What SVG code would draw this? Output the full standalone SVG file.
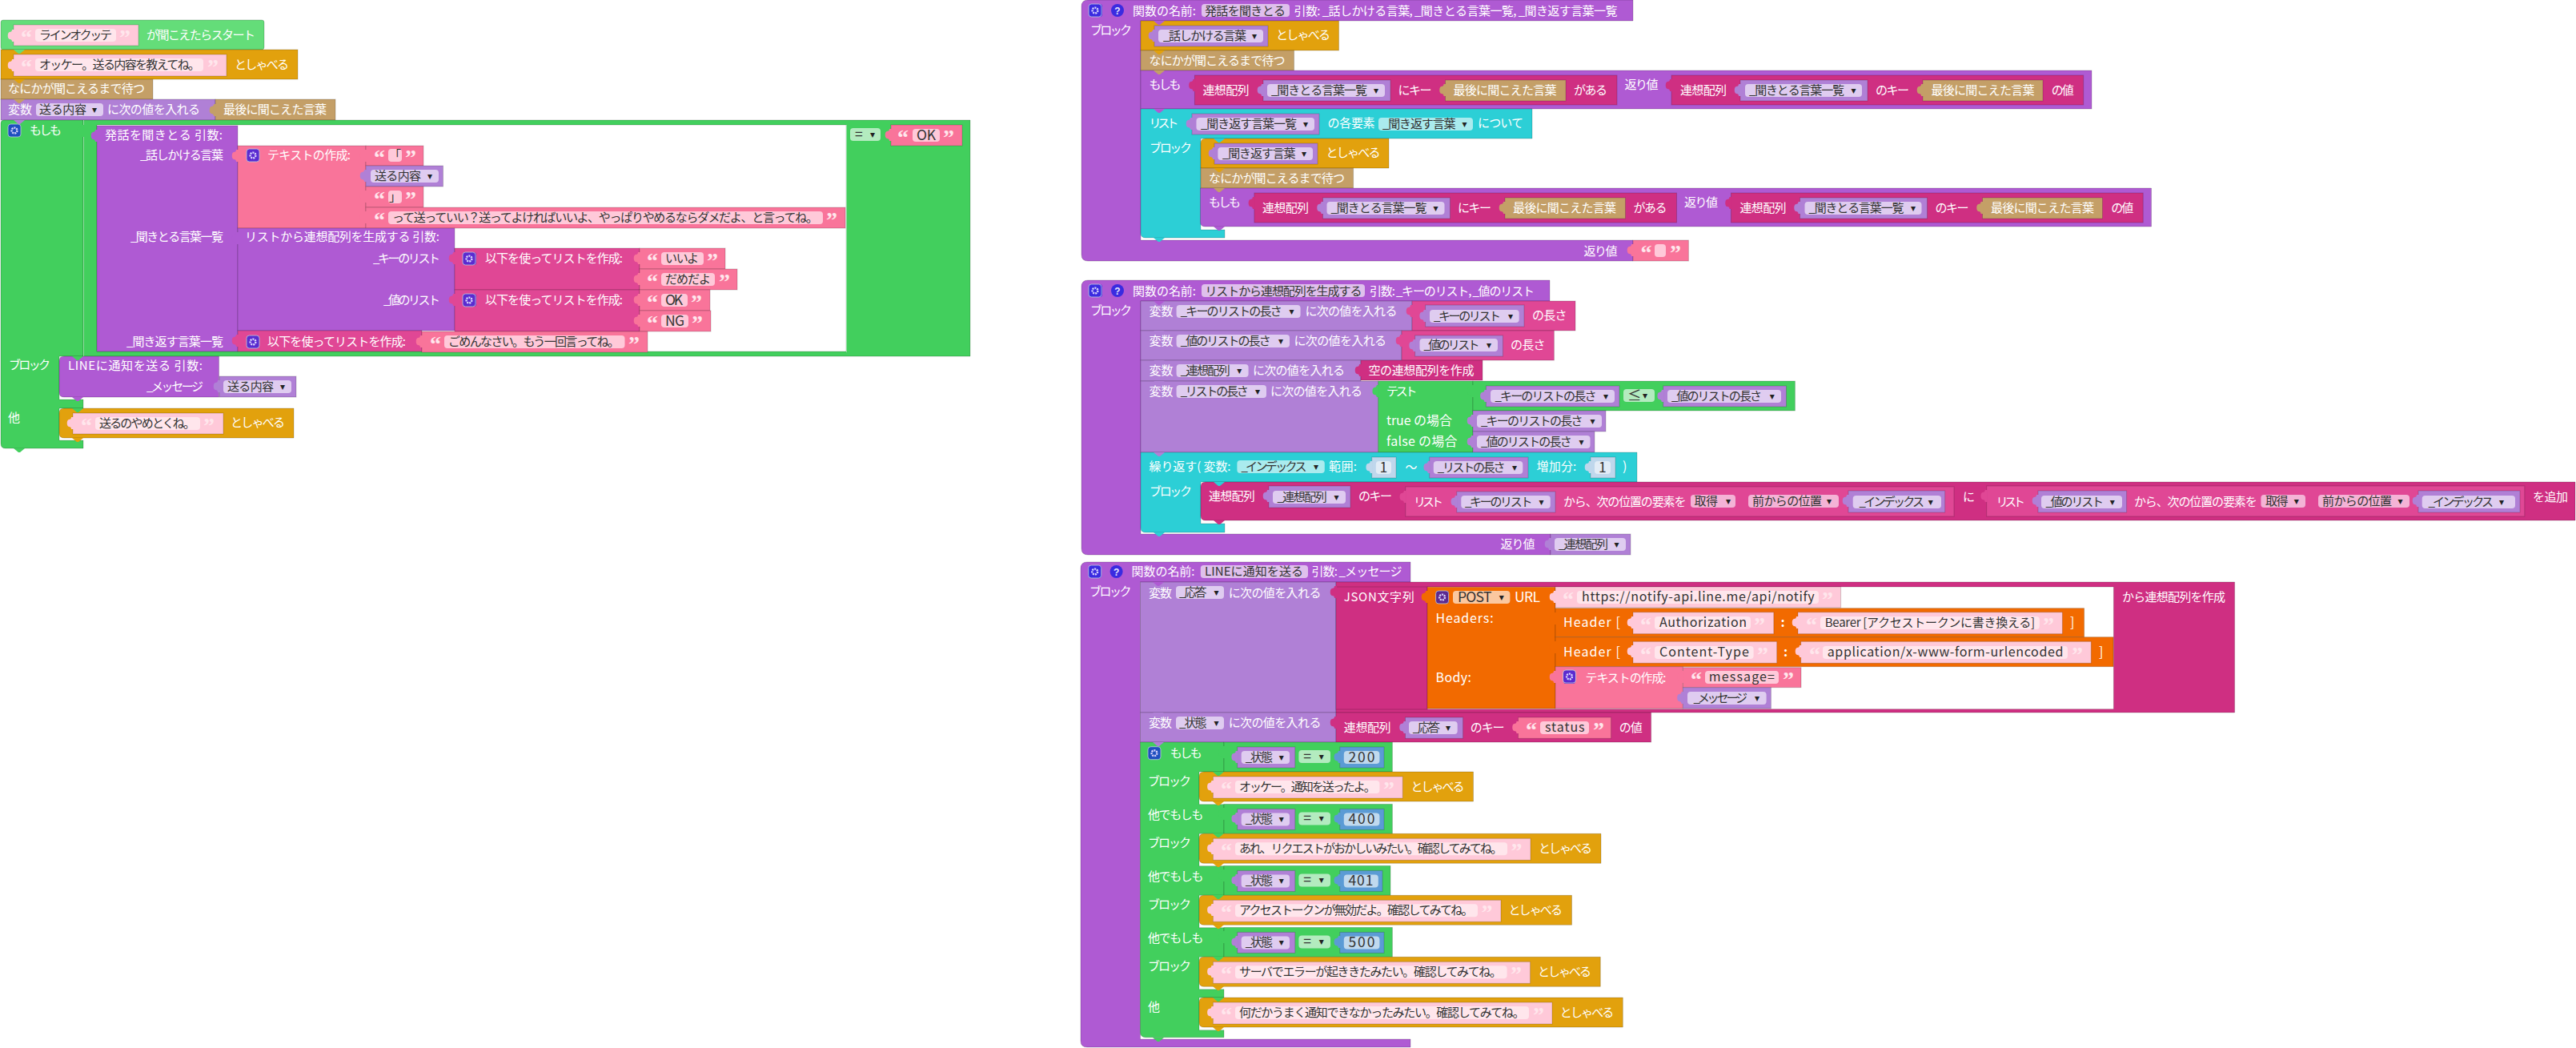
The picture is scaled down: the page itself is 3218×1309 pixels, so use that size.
<svg xmlns="http://www.w3.org/2000/svg" xmlns:xlink="http://www.w3.org/1999/xlink" width="3218" height="1309" viewBox="0 0 3218 1309">
<style>
text{font-family:"Noto Sans CJK JP","Noto Sans",sans-serif;font-size:15px}
.w{fill:#fff}.d{fill:#333}
.l{font-size:17.500px}.m{font-size:16px}
.q{font-family:"Liberation Serif",serif;font-weight:bold;font-size:28px;fill:#ffe6ec}
.a{font-family:"DejaVu Sans",sans-serif;font-size:12px;fill:#222;text-anchor:middle}
rect:not(.f),path.k{stroke:rgba(0,0,0,.18)}
.st{fill:#64dd79}.ge{fill:#42cf5d}.or{fill:#e2a10d}.tn{fill:#c49f67}.pv{fill:#b080d6}.pu{fill:#af5ad3}.dr{fill:#cf2f82}.dp{fill:#e04795}.pk{fill:#f9749a}.lp{fill:#ffc9d9}.cy{fill:#2ccfd6}.og{fill:#f26a00}.nb{fill:#5b9bd5}.n1{fill:#bfd7ec}
.fv{fill:#dfccf0}.fl{fill:#ffe6ec}.fp{fill:#ffc9d9}.fg{fill:#b3ebbf}.fc{fill:#aaebee}.fn{fill:#c0d9ee}.fm{fill:#dfc0ec}.fo{fill:#fbc8a0}.fd{fill:#f4b3d6}.fw{fill:#e2ecf6}
.ib{fill:#1f4fbf}.ip{fill:#5a2bd0}.iq{fill:#3a2be0}.io{fill:#5c2a90}
.sep{fill:#8fe09f}
.gear{fill:none;stroke:#dcd6ff;stroke-width:2.4;stroke-dasharray:2 1}
.help{font-family:"Liberation Sans",sans-serif;font-weight:bold;font-size:12px;fill:#e6e2ff;text-anchor:middle}
</style>
<defs>
<path id="t" d="M0 0H14L8 5H6Z"/>
<path id="p" d="M1 0H-2C-2 2 -3 3 -5 3C-8 3 -8 12 -5 12C-3 12 -2 13 -2 15H1Z"/>
<g id="ic"><rect class="f" x="0" y="0" width="16" height="16" rx="3.5" fill="none" stroke="#bcd" stroke-width="0.8"/><circle class="gear" cx="8" cy="8" r="3.4"/></g>
</defs>

<g id="start-stack">
<g id="start-hat"><rect class="st" x="1" y="25" width="329" height="37" rx="3"/>
<rect class="lp" x="17" y="31" width="156" height="26"/><text class="q" x="26" y="56">“</text><rect class="f fl" x="44" y="36" width="101" height="16" rx="4"/><text class="d" x="49" y="49" textLength="91">ラインオクッテ</text><text class="q" x="149" y="56">”</text>
<text class="w" x="183" y="49" textLength="136">が聞こえたらスタート</text></g>
<g id="start-say"><rect class="or" x="1" y="62" width="371" height="37"/>
<rect class="lp" x="17" y="68" width="266" height="27"/><text class="q" x="26" y="93">“</text><rect class="f fl" x="44" y="73" width="210" height="16" rx="4"/><text class="d" x="49" y="86" textLength="201">オッケー。送る内容を教えてね。</text><text class="q" x="259" y="93">”</text>
<text class="w" x="293" y="86" textLength="68">としゃべる</text></g>
<g id="start-wait"><rect class="tn" x="1" y="99" width="190" height="25"/><text class="w" x="10" y="116" textLength="171">なにかが聞こえるまで待つ</text></g>
<g id="start-set"><rect class="pv" x="1" y="124" width="268" height="26"/><text class="w" x="10" y="142" textLength="30">変数</text><rect class="f fv" x="45" y="129" width="84" height="16" rx="4"/><text class="d" x="49" y="142" textLength="59">送る内容</text><text class="a" x="118" y="141">▾</text><text class="w" x="134" y="142" textLength="116">に次の値を入れる</text>
<rect class="tn" x="269" y="124" width="150" height="26"/><text class="w" x="279" y="142" textLength="129">最後に聞こえた言葉</text></g>
<g id="start-if">
<path class="ge k" d="M5 150H104V445H74V499H104V510H74V550H104V560H7Q1 560 1 554V154Q1 150 5 150Z"/>
<rect class="f ib" x="10" y="155" width="16" height="16" rx="3.5"/><use href="#ic" x="10" y="155"/>
<text class="w" x="37" y="168" textLength="40">もしも</text>
<text class="w" x="11" y="461" textLength="52">ブロック</text>
<text class="w" x="10" y="527" textLength="15">他</text>
</g>
<g id="start-compare">
<path class="ge k" d="M104 150H1212V445H104ZM121 156V439H1057V156Z" fill-rule="evenodd"/>
<rect class="f sep" x="104" y="150" width="1" height="295"/><rect class="f sep" x="1057" y="156" width="1" height="284"/>
<rect class="f fg" x="1062" y="160" width="38" height="16" rx="4"/><text class="d l" x="1068" y="174">=</text><text class="a" x="1090" y="172">▾</text>
<rect class="pk" x="1113" y="156" width="89" height="26"/><text class="q" x="1121" y="181">“</text><rect class="f fp" x="1140" y="161" width="34" height="16" rx="4"/><text class="d l" x="1145" y="175" textLength="24">OK</text><text class="q" x="1178" y="181">”</text>
</g>
<g id="call-hatsuwa"><rect class="pu" x="121" y="157" width="176" height="282"/>
<text class="w" x="131" y="174" textLength="147">発話を聞きとる  引数:</text>
<text class="w" x="175" y="199" textLength="104">_話しかける言葉</text>
<text class="w" x="163" y="301" textLength="116">_聞きとる言葉一覧</text>
<text class="w" x="158" y="432" textLength="121">_聞き返す言葉一覧</text></g>
<g id="join-prompt"><rect class="pk" x="297" y="182" width="160" height="103"/><rect class="f ip" x="308" y="186" width="16" height="16" rx="3.5"/><use href="#ic" x="308" y="186"/>
<text class="w" x="334" y="199" textLength="104">テキストの作成:</text>
<rect class="pk" x="457" y="182" width="72" height="25"/><text class="q" x="467" y="206">“</text><rect class="f fp" x="485" y="186" width="17" height="16" rx="4"/><text class="d" x="486" y="199">「</text><text class="q" x="506" y="206">”</text>
<rect class="pv" x="457" y="207" width="96.500" height="26"/><rect class="f fv" x="463" y="212" width="85" height="16" rx="4"/><text class="d" x="468" y="225" textLength="58">送る内容</text><text class="a" x="537" y="224">▾</text>
<rect class="pk" x="457" y="233" width="72" height="26"/><text class="q" x="467" y="258">“</text><rect class="f fp" x="485" y="238" width="17" height="16" rx="4"/><text class="d" x="486" y="251">」</text><text class="q" x="506" y="258">”</text>
<rect class="pk" x="457" y="259" width="599" height="26"/><text class="q" x="467" y="284">“</text><rect class="f fp" x="485" y="264" width="543" height="16" rx="4"/><text class="d" x="490" y="277" textLength="532">って送っていい？送ってよければいいよ、やっぱりやめるならダメだよ、と言ってね。</text><text class="q" x="1032" y="284">”</text></g>
<g id="call-dict"><rect class="pu" x="297" y="285" width="271" height="128"/>
<text class="w" x="306" y="301" textLength="243">リストから連想配列を生成する  引数:</text>
<text class="w" x="466" y="328" textLength="84">_キーのリスト</text>
<text class="w" x="479" y="380" textLength="71">_値のリスト</text></g>
<g id="list-keys"><rect class="dp" x="568" y="310" width="231" height="52"/><rect class="f ip" x="578" y="315" width="17" height="16" rx="3.5"/><use href="#ic" x="578" y="315"/><text class="w" x="606" y="328" textLength="172">以下を使ってリストを作成:</text>
<rect class="pk" x="799" y="310" width="107" height="26"/><text class="q" x="808" y="335">“</text><rect class="f fp" x="826" y="315" width="53" height="16" rx="4"/><text class="d" x="831" y="328" textLength="42">いいよ</text><text class="q" x="883" y="335">”</text>
<rect class="pk" x="799" y="336" width="122" height="26"/><text class="q" x="808" y="361">“</text><rect class="f fp" x="826" y="341" width="67" height="16" rx="4"/><text class="d" x="831" y="354" textLength="57">だめだよ</text><text class="q" x="898" y="361">”</text></g>
<g id="list-values"><rect class="dp" x="568" y="362" width="231" height="52"/><rect class="f ip" x="578" y="367" width="17" height="16" rx="3.5"/><use href="#ic" x="578" y="367"/><text class="w" x="606" y="380" textLength="172">以下を使ってリストを作成:</text>
<rect class="pk" x="799" y="362" width="88" height="26"/><text class="q" x="808" y="387">“</text><rect class="f fp" x="826" y="367" width="33" height="16" rx="4"/><text class="d l" x="831" y="381" textLength="22">OK</text><text class="q" x="863" y="387">”</text>
<rect class="pk" x="799" y="388" width="89" height="26"/><text class="q" x="808" y="413">“</text><rect class="f fp" x="826" y="393" width="34" height="16" rx="4"/><text class="d l" x="831" y="407" textLength="24">NG</text><text class="q" x="864" y="413">”</text></g>
<g id="list-again"><rect class="dp" x="297" y="413" width="230" height="26"/><rect class="f ip" x="308" y="419" width="16" height="16" rx="3.5"/><use href="#ic" x="308" y="419"/><text class="w" x="334" y="432" textLength="173">以下を使ってリストを作成:</text>
<rect class="pk" x="527" y="414" width="282" height="26"/><text class="q" x="537" y="439">“</text><rect class="f fp" x="555" y="419" width="225.500" height="16" rx="4"/><text class="d" x="560" y="432" textLength="214">ごめんなさい。もう一回言ってね。</text><text class="q" x="785" y="439">”</text></g>
<g id="call-line"><path class="pu k" d="M80 445H273.500V496H80Q74 496 74 490V451Q74 445 80 445Z"/>
<text class="w" x="85" y="462" textLength="168">LINEに通知を送る  引数:</text><text class="w" x="183" y="488" textLength="71">_メッセージ</text>
<rect class="pv" x="274" y="470" width="96" height="26"/><rect class="f fv" x="279" y="475" width="85" height="16" rx="4"/><text class="d" x="284" y="488" textLength="58">送る内容</text><text class="a" x="353" y="487">▾</text></g>
<g id="say-cancel"><path class="or k" d="M80 510H367V547H80Q74 547 74 541V516Q74 510 80 510Z"/>
<rect class="lp" x="91" y="516" width="188" height="26"/><text class="q" x="101" y="541">“</text><rect class="f fl" x="119" y="521" width="131" height="16" rx="4"/><text class="d" x="124" y="534" textLength="120">送るのやめとくね。</text><text class="q" x="254" y="541">”</text><text class="w" x="288" y="533" textLength="68">としゃべる</text></g>
</g>

<g id="func-hatsuwa">
<path class="pu k" d="M1359 0H2040V26H1425V300H2040V326H1359Q1351 326 1351 318V8Q1351 0 1359 0Z"/>
<rect class="f iq" x="1360" y="5" width="17" height="16" rx="3.5"/><use href="#ic" x="1360" y="5"/>
<circle class="iq" cx="1396" cy="13" r="8"/><text class="help" x="1396" y="17.500">?</text>
<text class="w" x="1415" y="18.500" textLength="79">関数の名前:</text>
<rect class="f fm" x="1501" y="5" width="110" height="16" rx="4"/><text class="d" x="1505" y="18.500" textLength="101">発話を聞きとる</text>
<text class="w" x="1616.500" y="18.500" textLength="404">引数: _話しかける言葉, _聞きとる言葉一覧, _聞き返す言葉一覧</text>
<text class="w" x="1362" y="42.500" textLength="52">ブロック</text>
<text class="w" x="1978.500" y="318.500" textLength="42">返り値</text>
<rect class="pk" x="2040" y="300" width="69.400" height="26"/><text class="q" x="2049.500" y="325">“</text><rect class="f fp" x="2067" y="305" width="14" height="16" rx="4"/><text class="q" x="2086" y="325">”</text>
<g id="f1-say"><rect class="or" x="1425" y="26" width="247.500" height="37"/><rect class="pv" x="1442" y="32" width="142" height="26"/><rect class="f fv" x="1447" y="37" width="131" height="16" rx="4"/><text class="d" x="1453" y="50" textLength="104">_話しかける言葉</text><text class="a" x="1567" y="49">▾</text><text class="w" x="1594" y="49" textLength="68">としゃべる</text></g>
<g id="f1-wait"><rect class="tn" x="1425" y="63" width="191.500" height="25"/><text class="w" x="1435.500" y="81" textLength="170">なにかが聞こえるまで待つ</text></g>
<g id="f1-if"><rect class="pu" x="1425" y="88" width="1188" height="48"/><text class="w" x="1435.500" y="111" textLength="40">もしも</text>
<rect class="dr" x="1492.400" y="94" width="527.600" height="37"/><text class="w" x="1502.500" y="118" textLength="58">連想配列</text>
<rect class="pv" x="1578" y="100" width="159" height="26"/><rect class="f fv" x="1583" y="105" width="147" height="16" rx="4"/><text class="d" x="1588" y="118" textLength="120">_聞きとる言葉一覧</text><text class="a" x="1719" y="117">▾</text>
<text class="w" x="1746.500" y="118" textLength="42">にキー</text>
<rect class="tn" x="1805.500" y="100" width="150.500" height="26"/><text class="w" x="1815.600" y="118" textLength="129">最後に聞こえた言葉</text>
<text class="w" x="1966" y="118" textLength="42">がある</text>
<text class="w" x="2029.500" y="111" textLength="42">返り値</text>
<rect class="dr" x="2088" y="94" width="514.700" height="37"/><text class="w" x="2099" y="118" textLength="58">連想配列</text>
<rect class="pv" x="2174" y="100" width="159" height="26"/><rect class="f fv" x="2180" y="105" width="146" height="16" rx="4"/><text class="d" x="2185" y="118" textLength="119">_聞きとる言葉一覧</text><text class="a" x="2315.600" y="117">▾</text>
<text class="w" x="2343" y="118" textLength="42">のキー</text>
<rect class="tn" x="2402" y="100" width="150" height="26"/><text class="w" x="2412.500" y="118" textLength="129">最後に聞こえた言葉</text>
<text class="w" x="2562.700" y="118" textLength="28">の値</text></g>
<g id="f1-for"><path class="cy k" d="M1425 136H1914V173H1500V287H1530V297H1431Q1425 297 1425 291Z"/>
<text class="w" x="1435.500" y="159" textLength="37">リスト</text>
<rect class="pv" x="1489" y="142" width="159" height="26"/><rect class="f fv" x="1494.500" y="147" width="147.500" height="16" rx="4"/><text class="d" x="1500" y="160" textLength="120">_聞き返す言葉一覧</text><text class="a" x="1631" y="159">▾</text>
<text class="w" x="1658.600" y="159" textLength="59">の各要素</text>
<rect class="f fc" x="1722" y="147" width="118" height="16" rx="4"/><text class="d" x="1727" y="160" textLength="91.500">_聞き返す言葉</text><text class="a" x="1829.500" y="159">▾</text>
<text class="w" x="1846" y="159" textLength="57">について</text>
<text class="w" x="1436" y="190" textLength="53">ブロック</text></g>
<g id="f1-for-say"><path class="or k" d="M1506 173H1735V210H1500V179Q1500 173 1506 173Z"/><rect class="pv" x="1517" y="179" width="129" height="26"/><rect class="f fv" x="1521.400" y="184" width="118.600" height="16" rx="4"/><text class="d" x="1527" y="197" textLength="91.600">_聞き返す言葉</text><text class="a" x="1629" y="196">▾</text><text class="w" x="1656.500" y="196" textLength="68">としゃべる</text></g>
<g id="f1-for-wait"><rect class="tn" x="1500" y="210" width="190.600" height="25"/><text class="w" x="1510" y="228" textLength="170">なにかが聞こえるまで待つ</text></g>
<g id="f1-for-if" transform="translate(74.500,147)"><path class="pu k" d="M1425 88H2613V136H1431Q1425 136 1425 130Z"/><text class="w" x="1435.500" y="111" textLength="40">もしも</text>
<rect class="dr" x="1492.400" y="94" width="527.600" height="37"/><text class="w" x="1502.500" y="118" textLength="58">連想配列</text>
<rect class="pv" x="1578" y="100" width="159" height="26"/><rect class="f fv" x="1583" y="105" width="147" height="16" rx="4"/><text class="d" x="1588" y="118" textLength="120">_聞きとる言葉一覧</text><text class="a" x="1719" y="117">▾</text>
<text class="w" x="1746.500" y="118" textLength="42">にキー</text>
<rect class="tn" x="1805.500" y="100" width="150.500" height="26"/><text class="w" x="1815.600" y="118" textLength="129">最後に聞こえた言葉</text>
<text class="w" x="1966" y="118" textLength="42">がある</text>
<text class="w" x="2029.500" y="111" textLength="42">返り値</text>
<rect class="dr" x="2088" y="94" width="514.700" height="37"/><text class="w" x="2099" y="118" textLength="58">連想配列</text>
<rect class="pv" x="2174" y="100" width="159" height="26"/><rect class="f fv" x="2180" y="105" width="146" height="16" rx="4"/><text class="d" x="2185" y="118" textLength="119">_聞きとる言葉一覧</text><text class="a" x="2315.600" y="117">▾</text>
<text class="w" x="2343" y="118" textLength="42">のキー</text>
<rect class="tn" x="2402" y="100" width="150" height="26"/><text class="w" x="2412.500" y="118" textLength="129">最後に聞こえた言葉</text>
<text class="w" x="2562.700" y="118" textLength="28">の値</text></g>
</g>

<g id="func-dict">
<path class="pu k" d="M1359 350H1936V376H1425V667H1937V693H1359Q1351 693 1351 685V358Q1351 350 1359 350Z"/>
<rect class="f iq" x="1360" y="355" width="17" height="16" rx="3.5"/><use href="#ic" x="1360" y="355"/>
<circle class="iq" cx="1396" cy="363" r="8"/><text class="help" x="1396" y="367.500">?</text>
<text class="w" x="1415" y="368.500" textLength="79">関数の名前:</text>
<rect class="f fm" x="1501" y="355" width="204" height="16" rx="4"/><text class="d" x="1505.400" y="368.500" textLength="196">リストから連想配列を生成する</text>
<text class="w" x="1711" y="368.500" textLength="206">引数: _キーのリスト, _値のリスト</text>
<text class="w" x="1362" y="393" textLength="52">ブロック</text>
<text class="w" x="1874.500" y="685" textLength="43">返り値</text>
<rect class="pv" x="1937" y="667" width="100" height="26"/><rect class="f fv" x="1942" y="672" width="89" height="16" rx="4"/><text class="d" x="1947" y="685" textLength="62">_連想配列</text><text class="a" x="2019.400" y="684">▾</text>
<g id="f2-set1"><rect class="pv" x="1425" y="376" width="339" height="37"/><text class="w" x="1435.500" y="394" textLength="30">変数</text><rect class="f fv" x="1469.600" y="381" width="155" height="16" rx="4"/><text class="d" x="1474.700" y="394" textLength="127">_キーのリストの長さ</text><text class="a" x="1613.600" y="393">▾</text><text class="w" x="1630.400" y="394" textLength="115">に次の値を入れる</text>
<rect class="dp" x="1764" y="376" width="204" height="37"/><rect class="pv" x="1780.600" y="381" width="123.400" height="27"/><rect class="f fv" x="1786" y="387" width="111.700" height="16" rx="4"/><text class="d" x="1791" y="400" textLength="84">_キーのリスト</text><text class="a" x="1887" y="399">▾</text><text class="w" x="1914" y="399" textLength="43.400">の長さ</text></g>
<g id="f2-set2"><rect class="pv" x="1425" y="413" width="326" height="37"/><text class="w" x="1435.500" y="431" textLength="30">変数</text><rect class="f fv" x="1469.600" y="418" width="141.400" height="16" rx="4"/><text class="d" x="1474.700" y="431" textLength="113">_値のリストの長さ</text><text class="a" x="1600" y="430">▾</text><text class="w" x="1616.500" y="431" textLength="115.500">に次の値を入れる</text>
<rect class="dp" x="1751" y="413" width="190.400" height="37"/><rect class="pv" x="1767.600" y="419" width="109.900" height="26"/><rect class="f fv" x="1773.500" y="423" width="97.500" height="16" rx="4"/><text class="d" x="1778.500" y="436" textLength="70">_値のリスト</text><text class="a" x="1860" y="435">▾</text><text class="w" x="1887" y="436" textLength="43.500">の長さ</text></g>
<g id="f2-set3"><rect class="pv" x="1425" y="450" width="275" height="26"/><text class="w" x="1435.500" y="468" textLength="30">変数</text><rect class="f fv" x="1469.600" y="455" width="90" height="16" rx="4"/><text class="d" x="1474.700" y="468" textLength="62">_連想配列</text><text class="a" x="1548.300" y="467">▾</text><text class="w" x="1565" y="468" textLength="115">に次の値を入れる</text>
<rect class="dr" x="1700" y="450" width="152" height="25"/><text class="w" x="1709.500" y="468" textLength="132">空の連想配列を作成</text></g>
<g id="f2-set4"><rect class="pv" x="1425" y="476" width="296.700" height="89"/><text class="w" x="1435.500" y="494" textLength="30">変数</text><rect class="f fv" x="1469.600" y="481" width="112.400" height="16" rx="4"/><text class="d" x="1474.700" y="494" textLength="85">_リストの長さ</text><text class="a" x="1571" y="493">▾</text><text class="w" x="1587" y="494" textLength="115">に次の値を入れる</text>
<rect class="ge" x="1721.700" y="476" width="118.300" height="89"/><text class="w" x="1732" y="494" textLength="38.500">テスト</text><text class="w m" x="1732" y="531" textLength="82">true の場合</text><text class="w m" x="1732" y="557" textLength="88.600">false の場合</text>
<rect class="ge" x="1840" y="476" width="402.400" height="37"/>
<rect class="pv" x="1856.400" y="482" width="166.600" height="26"/><rect class="f fv" x="1862" y="487" width="155" height="16" rx="4"/><text class="d" x="1867.400" y="500" textLength="127">_キーのリストの長さ</text><text class="a" x="2006" y="499">▾</text>
<rect class="f fg" x="2028" y="486" width="39" height="16" rx="4"/><text class="d l" x="2033" y="500">≤</text><text class="a" x="2055" y="498">▾</text>
<rect class="pv" x="2077.700" y="482" width="153.800" height="26"/><rect class="f fv" x="2083" y="487" width="142" height="16" rx="4"/><text class="d" x="2088" y="500" textLength="113">_値のリストの長さ</text><text class="a" x="2213.700" y="499">▾</text>
<rect class="pv" x="1840" y="513" width="166" height="26"/><rect class="f fv" x="1845" y="518" width="156" height="16" rx="4"/><text class="d" x="1850" y="531" textLength="127.600">_キーのリストの長さ</text><text class="a" x="1989.400" y="530">▾</text>
<rect class="pv" x="1840" y="539" width="152" height="26"/><rect class="f fv" x="1845" y="544" width="141.500" height="16" rx="4"/><text class="d" x="1850" y="557" textLength="113.700">_値のリストの長さ</text><text class="a" x="1975.500" y="556">▾</text></g>
<g id="f2-for"><path class="cy k" d="M1425 565H2045V602H1500V654H1530V665H1431Q1425 665 1425 659Z"/>
<text class="w" x="1435.500" y="588" textLength="102">繰り返す( 変数:</text>
<rect class="f fc" x="1545.400" y="575" width="109.400" height="16" rx="4"/><text class="d" x="1550.400" y="588" textLength="82">_インデックス</text><text class="a" x="1644" y="587">▾</text>
<text class="w" x="1660" y="588" textLength="35">範囲:</text>
<rect class="n1" x="1713.700" y="571" width="30.300" height="26"/><rect class="f fw" x="1718.800" y="576" width="19.200" height="16" rx="4"/><text class="d l" x="1723.500" y="590">1</text>
<text class="w" x="1755.400" y="589" textLength="13">〜</text>
<rect class="pv" x="1785.700" y="571" width="123.300" height="26"/><rect class="f fv" x="1790.800" y="576" width="111.500" height="16" rx="4"/><text class="d" x="1795.800" y="589" textLength="84.600">_リストの長さ</text><text class="a" x="1892" y="588">▾</text>
<text class="w" x="1919.600" y="588" textLength="49.600">増加分:</text>
<rect class="n1" x="1987" y="571" width="31" height="26"/><rect class="f fw" x="1992" y="576" width="20" height="16" rx="4"/><text class="d l" x="1997" y="590">1</text>
<text class="w m" x="2027" y="588">)</text>
<text class="w" x="1436" y="619" textLength="53">ブロック</text></g>
<g id="f2-add"><path class="dr k" d="M1506 602H3217V650H1506Q1500 650 1500 644V608Q1500 602 1506 602Z"/>
<text class="w" x="1510" y="625" textLength="57.700">連想配列</text>
<rect class="pv" x="1585" y="607" width="102" height="27"/><rect class="f fv" x="1590" y="613" width="91" height="16" rx="4"/><text class="d" x="1595.500" y="626" textLength="62.300">_連想配列</text><text class="a" x="1669.500" y="625">▾</text>
<text class="w" x="1697" y="625" textLength="42">のキー</text>
<rect class="dp" x="1755.800" y="608" width="685.200" height="37"/><text class="w" x="1766" y="632" textLength="37">リスト</text>
<rect class="pv" x="1819.800" y="614" width="123.200" height="26"/><rect class="f fv" x="1825.300" y="619" width="111.500" height="16" rx="4"/><text class="d" x="1830" y="632" textLength="84.500">_キーのリスト</text><text class="a" x="1925.400" y="631">▾</text>
<text class="w" x="1953" y="632" textLength="153.400">から、次の位置の要素を</text>
<rect class="f fd" x="2112" y="618" width="56" height="16" rx="4"/><text class="d" x="2116.500" y="631" textLength="29.500">取得</text><text class="a" x="2159" y="630">▾</text>
<rect class="f fd" x="2184" y="618" width="113" height="16" rx="4"/><text class="d" x="2189" y="631" textLength="87">前からの位置</text><text class="a" x="2285" y="630">▾</text>
<rect class="pv" x="2309" y="613" width="120.700" height="27"/><rect class="f fv" x="2314.700" y="619" width="110.300" height="16" rx="4"/><text class="d" x="2322.500" y="632" textLength="81.500">_インデックス</text><text class="a" x="2411.800" y="631">▾</text>
<text class="w" x="2452" y="626" textLength="14">に</text>
<rect class="dp" x="2481.700" y="607" width="672.100" height="38"/><text class="w" x="2493.400" y="632" textLength="36.600">リスト</text>
<rect class="pv" x="2546" y="613" width="110.600" height="27"/><rect class="f fv" x="2550" y="619" width="101" height="16" rx="4"/><text class="d" x="2555.600" y="632" textLength="72.400">_値のリスト</text><text class="a" x="2638.700" y="631">▾</text>
<text class="w" x="2665.900" y="632" textLength="153.800">から、次の位置の要素を</text>
<rect class="f fd" x="2824.400" y="618" width="55.600" height="16" rx="4"/><text class="d" x="2830" y="631" textLength="28.600">取得</text><text class="a" x="2868.700" y="630">▾</text>
<rect class="f fd" x="2896" y="618" width="114" height="16" rx="4"/><text class="d" x="2901" y="631" textLength="87">前からの位置</text><text class="a" x="2998.500" y="630">▾</text>
<rect class="pv" x="3021" y="613" width="127" height="27"/><rect class="f fv" x="3025.700" y="619" width="116.300" height="16" rx="4"/><text class="d" x="3033.400" y="632" textLength="81.600">_インデックス</text><text class="a" x="3125" y="631">▾</text>
<text class="w" x="3164" y="626" textLength="44">を追加</text></g>
</g>

<g id="func-line">
<path class="pu k" d="M1358 702H1762V727H1424.500V1298H1762V1308H1358Q1350 1308 1350 1300V710Q1350 702 1358 702Z"/>
<rect class="f iq" x="1359.700" y="706" width="16.300" height="16" rx="3.500"/><use href="#ic" x="1359.700" y="706"/>
<circle class="iq" cx="1394.600" cy="714" r="8"/><text class="help" x="1394.600" y="718.500">?</text>
<text class="w" x="1413.500" y="719" textLength="79">関数の名前:</text>
<rect class="f fm" x="1499.800" y="706" width="134.200" height="16" rx="4"/><text class="d" x="1505" y="719" textLength="123">LINEに通知を送る</text>
<text class="w" x="1638.400" y="719" textLength="113">引数: _メッセージ</text>
<text class="w" x="1361" y="744" textLength="52.500">ブロック</text>
<g id="f3-set-res"><rect class="pv" x="1424.500" y="727" width="244.500" height="163"/><text class="w" x="1435" y="746" textLength="29">変数</text><rect class="f fv" x="1469" y="732" width="60" height="16" rx="4"/><text class="d" x="1473" y="745" textLength="34.600">_応答</text><text class="a" x="1519.500" y="744">▾</text><text class="w" x="1534.700" y="746" textLength="115.700">に次の値を入れる</text></g>
<g id="f3-json"><path class="dr k" d="M1669 727H2791.600V890H1669ZM1783 733V885.700H2640.400V733Z" fill-rule="evenodd"/>
<rect class="dr" x="1669" y="733" width="114" height="153"/>
<text class="w" x="1678.800" y="751" textLength="88">JSON文字列</text><text class="w" x="2651" y="751" textLength="129">から連想配列を作成</text></g>
<g id="f3-http"><rect class="og" x="1783" y="733.300" width="160" height="151.700"/><rect class="f io" x="1793.600" y="738" width="16.400" height="16" rx="3.500"/><use href="#ic" x="1793.600" y="738"/>
<rect class="f fo" x="1815" y="738" width="71.400" height="16" rx="4"/><text class="d l" x="1821" y="752" textLength="42.400">POST</text><text class="a" x="1875.800" y="750">▾</text>
<text class="w l" x="1892" y="752" textLength="32">URL</text><text class="w m" x="1793.600" y="778" textLength="72">Headers:</text><text class="w m" x="1793.600" y="852" textLength="44.400">Body:</text>
<rect class="lp" x="1943" y="733" width="356.600" height="26"/><text class="q" x="1952" y="758">“</text><rect class="f fl" x="1970" y="738" width="302" height="16" rx="4"/><text class="d m" x="1976" y="751" textLength="290.700">https://notify-api.line.me/api/notify</text><text class="q" x="2276" y="758">”</text></g>
<g id="f3-header1"><rect class="og" x="1943" y="759.700" width="660.600" height="36"/><text class="w m" x="1953" y="783" textLength="71">Header [</text>
<rect class="lp" x="2040" y="764.700" width="175.800" height="27"/><text class="q" x="2049" y="790">“</text><rect class="f fl" x="2067" y="770" width="120" height="16" rx="4"/><text class="d m" x="2073" y="783" textLength="109">Authorization</text><text class="q" x="2191" y="790">”</text>
<text class="w m" x="2224.500" y="783" style="font-weight:bold">:</text>
<rect class="lp" x="2246" y="764.700" width="330.400" height="27"/><text class="q" x="2256" y="790">“</text><rect class="f fl" x="2274" y="770" width="273.800" height="16" rx="4"/><text class="d" x="2279.800" y="783" textLength="262.200">Bearer [アクセストークンに書き換える]</text><text class="q" x="2552" y="790">”</text>
<text class="w m" x="2586" y="783">]</text></g>
<g id="f3-header2"><rect class="og" x="1943" y="795.700" width="697" height="37"/><text class="w m" x="1953" y="820" textLength="71">Header [</text>
<rect class="lp" x="2040" y="801.300" width="179.700" height="27"/><text class="q" x="2049" y="827">“</text><rect class="f fl" x="2067" y="807" width="123.600" height="16" rx="4"/><text class="d m" x="2073" y="820" textLength="111.800">Content-Type</text><text class="q" x="2195" y="827">”</text>
<text class="w m" x="2228" y="820" style="font-weight:bold">:</text>
<rect class="lp" x="2249.700" y="801.300" width="362.600" height="27"/><text class="q" x="2260" y="827">“</text><rect class="f fl" x="2277" y="807" width="306" height="16" rx="4"/><text class="d m" x="2282.700" y="820" textLength="294.700">application/x-www-form-urlencoded</text><text class="q" x="2588" y="827">”</text>
<text class="w m" x="2622" y="820">]</text></g>
<g id="f3-body"><rect class="pk" x="1943" y="832.700" width="159.400" height="52.300"/><rect class="f ip" x="1953" y="837" width="15" height="17" rx="3.500"/><use href="#ic" x="1952.500" y="837"/><text class="w" x="1980.500" y="852" textLength="101">テキストの作成:</text>
<rect class="pk" x="2102.400" y="833.700" width="147.600" height="25"/><text class="q" x="2112" y="858">“</text><rect class="f fp" x="2130" y="838" width="92" height="16" rx="4"/><text class="d m" x="2134.800" y="851" textLength="82.200">message=</text><text class="q" x="2227" y="858">”</text>
<rect class="pv" x="2102.400" y="858.700" width="110" height="26.300"/><rect class="f fv" x="2108" y="864" width="98.600" height="16" rx="4"/><text class="d" x="2115.400" y="877" textLength="67.600">_メッセージ</text><text class="a" x="2195" y="876">▾</text></g>
<g id="f3-set-status"><rect class="pv" x="1424.500" y="890" width="244.500" height="37"/><text class="w" x="1435" y="908" textLength="29">変数</text><rect class="f fv" x="1469" y="895" width="60" height="16" rx="4"/><text class="d" x="1473" y="908" textLength="34.600">_状態</text><text class="a" x="1519.500" y="907">▾</text><text class="w" x="1534.700" y="908" textLength="115.700">に次の値を入れる</text>
<rect class="dr" x="1669" y="890" width="393.600" height="37"/><text class="w" x="1678.800" y="914" textLength="58.800">連想配列</text>
<rect class="pv" x="1755.500" y="896" width="72.100" height="26.300"/><rect class="f fv" x="1760" y="901" width="60.700" height="16" rx="4"/><text class="d" x="1764.700" y="914" textLength="34.300">_応答</text><text class="a" x="1809" y="913">▾</text>
<text class="w" x="1836.800" y="914" textLength="42.700">のキー</text>
<rect class="pk" x="1896.500" y="896" width="116.100" height="26.300"/><text class="q" x="1906" y="921">“</text><rect class="f fp" x="1924" y="901" width="61" height="16" rx="4"/><text class="d m" x="1930" y="914" textLength="49.600">status</text><text class="q" x="1990" y="921">”</text>
<text class="w" x="2022.700" y="914" textLength="29">の値</text></g>
<g id="f3-if">
<path class="ge k" d="M1424.500 927H1529V964H1498V1004.700H1529V1041.300H1498V1081.700H1529V1118.300H1498V1158.700H1529V1195.300H1498V1235.700H1529V1246H1498V1286.700H1529V1295.700H1431Q1424.500 1295.700 1424.500 1289Z"/>
<rect class="f ib" x="1434" y="932.700" width="16" height="16" rx="3.500"/><use href="#ic" x="1434" y="932.700"/>
<text class="w" x="1461.700" y="946" textLength="40">もしも</text>
<text class="w" x="1434" y="981" textLength="54">ブロック</text><text class="w" x="1434" y="1023" textLength="69.500">他でもしも</text>
<text class="w" x="1434" y="1058" textLength="54">ブロック</text><text class="w" x="1434" y="1100" textLength="69.500">他でもしも</text>
<text class="w" x="1434" y="1135" textLength="54">ブロック</text><text class="w" x="1434" y="1177" textLength="69.500">他でもしも</text>
<text class="w" x="1434" y="1212" textLength="54">ブロック</text><text class="w" x="1434" y="1263" textLength="15">他</text>
</g>
<g id="cmp-200"><rect class="ge" x="1529" y="927" width="210.400" height="37"/><rect class="pv" x="1545.700" y="933" width="72.100" height="26"/><rect class="f fv" x="1550.700" y="938" width="60.300" height="16" rx="4"/><text class="d" x="1555.800" y="951" textLength="34.200">_状態</text><text class="a" x="1600.800" y="950">▾</text><rect class="f fg" x="1622.400" y="937" width="39.600" height="16" rx="4"/><text class="d l" x="1628.300" y="951">=</text><text class="a" x="1650.800" y="949">▾</text><rect class="nb" x="1673.800" y="933" width="55.200" height="26"/><rect class="f fn" x="1678.800" y="938" width="44.600" height="16" rx="4"/><text class="d l" x="1684.400" y="952" textLength="33">200</text></g>
<g id="cmp-400" transform="translate(0,77.400)"><rect class="ge" x="1529" y="927" width="210.400" height="37"/><rect class="pv" x="1545.700" y="933" width="72.100" height="26"/><rect class="f fv" x="1550.700" y="938" width="60.300" height="16" rx="4"/><text class="d" x="1555.800" y="951" textLength="34.200">_状態</text><text class="a" x="1600.800" y="950">▾</text><rect class="f fg" x="1622.400" y="937" width="39.600" height="16" rx="4"/><text class="d l" x="1628.300" y="951">=</text><text class="a" x="1650.800" y="949">▾</text><rect class="nb" x="1673.800" y="933" width="55.200" height="26"/><rect class="f fn" x="1678.800" y="938" width="44.600" height="16" rx="4"/><text class="d l" x="1684.400" y="952" textLength="33">400</text></g>
<g id="cmp-401" transform="translate(0,154.400)"><rect class="ge" x="1529" y="927" width="208" height="37"/><rect class="pv" x="1545.700" y="933" width="72.100" height="26"/><rect class="f fv" x="1550.700" y="938" width="60.300" height="16" rx="4"/><text class="d" x="1555.800" y="951" textLength="34.200">_状態</text><text class="a" x="1600.800" y="950">▾</text><rect class="f fg" x="1622.400" y="937" width="39.600" height="16" rx="4"/><text class="d l" x="1628.300" y="951">=</text><text class="a" x="1650.800" y="949">▾</text><rect class="nb" x="1673.800" y="933" width="53.200" height="26"/><rect class="f fn" x="1678.800" y="938" width="43" height="16" rx="4"/><text class="d l" x="1684.400" y="952" textLength="31">401</text></g>
<g id="cmp-500" transform="translate(0,231.400)"><rect class="ge" x="1529" y="927" width="210.400" height="37"/><rect class="pv" x="1545.700" y="933" width="72.100" height="26"/><rect class="f fv" x="1550.700" y="938" width="60.300" height="16" rx="4"/><text class="d" x="1555.800" y="951" textLength="34.200">_状態</text><text class="a" x="1600.800" y="950">▾</text><rect class="f fg" x="1622.400" y="937" width="39.600" height="16" rx="4"/><text class="d l" x="1628.300" y="951">=</text><text class="a" x="1650.800" y="949">▾</text><rect class="nb" x="1673.800" y="933" width="55.200" height="26"/><rect class="f fn" x="1678.800" y="938" width="44.600" height="16" rx="4"/><text class="d l" x="1684.400" y="952" textLength="33">500</text></g>
<g id="say-200"><path class="or k" d="M1504 964H1840.500V1001H1504Q1498 1001 1498 995V970Q1498 964 1504 964Z"/><rect class="lp" x="1515.400" y="970" width="236.900" height="27"/><text class="q" x="1525" y="995">“</text><rect class="f fl" x="1543" y="975" width="180.400" height="16" rx="4"/><text class="d" x="1548" y="988" textLength="170.800">オッケー。通知を送ったよ。</text><text class="q" x="1728" y="995">”</text><text class="w" x="1762.400" y="988" textLength="67">としゃべる</text></g>
<g id="say-400" transform="translate(0,77.300)"><path class="or k" d="M1504 964H2000V1001H1504Q1498 1001 1498 995V970Q1498 964 1504 964Z"/><rect class="lp" x="1515.400" y="970" width="396.600" height="27"/><text class="q" x="1525" y="995">“</text><rect class="f fl" x="1543" y="975" width="340" height="16" rx="4"/><text class="d" x="1548" y="988" textLength="329">あれ、リクエストがおかしいみたい。確認してみてね。</text><text class="q" x="1887.500" y="995">”</text><text class="w" x="1922" y="988" textLength="67">としゃべる</text></g>
<g id="say-401" transform="translate(0,154.300)"><path class="or k" d="M1504 964H1963.500V1001H1504Q1498 1001 1498 995V970Q1498 964 1504 964Z"/><rect class="lp" x="1515.400" y="970" width="359.600" height="27"/><text class="q" x="1525" y="995">“</text><rect class="f fl" x="1543" y="975" width="303" height="16" rx="4"/><text class="d" x="1548" y="988" textLength="292.500">アクセストークンが無効だよ。確認してみてね。</text><text class="q" x="1850.500" y="995">”</text><text class="w" x="1884.500" y="988" textLength="67.500">としゃべる</text></g>
<g id="say-500" transform="translate(0,231.300)"><path class="or k" d="M1504 964H1999.300V1001H1504Q1498 1001 1498 995V970Q1498 964 1504 964Z"/><rect class="lp" x="1515.400" y="970" width="396.200" height="27"/><text class="q" x="1525" y="995">“</text><rect class="f fl" x="1543" y="975" width="339.600" height="16" rx="4"/><text class="d" x="1548" y="988" textLength="328">サーバでエラーが起ききたみたい。確認してみてね。</text><text class="q" x="1887" y="995">”</text><text class="w" x="1921" y="988" textLength="67">としゃべる</text></g>
<g id="say-else" transform="translate(0,282)"><path class="or k" d="M1504 964H2027.300V1001H1504Q1498 1001 1498 995V970Q1498 964 1504 964Z"/><rect class="lp" x="1515.400" y="970" width="423.600" height="27"/><text class="q" x="1525" y="995">“</text><rect class="f fl" x="1543" y="975" width="367" height="16" rx="4"/><text class="d" x="1548" y="988" textLength="356.700">何だかうまく通知できなかったみたい。確認してみてね。</text><text class="q" x="1915" y="995">”</text><text class="w" x="1948.800" y="988" textLength="67.500">としゃべる</text></g>
</g>

<g id="connectors">
<use href="#t" class="st" x="17" y="62"/><use href="#t" class="or" x="17" y="99"/><use href="#t" class="tn" x="17" y="124"/><use href="#t" class="pv" x="17" y="150"/><use href="#t" class="ge" x="17" y="560"/><use href="#t" class="ge" x="90" y="445"/><use href="#t" class="pu" x="90" y="496"/><use href="#t" class="ge" x="90" y="510"/><use href="#t" class="or" x="90" y="547"/>
<use href="#t" class="pu" x="1441" y="26"/><use href="#t" class="or" x="1441" y="63"/><use href="#t" class="tn" x="1441" y="88"/><use href="#t" class="pu" x="1441" y="136"/><use href="#t" class="cy" x="1516" y="173"/><use href="#t" class="or" x="1516" y="210"/><use href="#t" class="tn" x="1516" y="235"/><use href="#t" class="pu" x="1516" y="283"/><use href="#t" class="cy" x="1441" y="297"/>
<use href="#t" class="pu" x="1441" y="376"/><use href="#t" class="pv" x="1441" y="413"/><use href="#t" class="pv" x="1441" y="450"/><use href="#t" class="pv" x="1441" y="476"/><use href="#t" class="pv" x="1441" y="565"/><use href="#t" class="cy" x="1516" y="602"/><use href="#t" class="dr" x="1516" y="650"/><use href="#t" class="cy" x="1441" y="665"/>
<use href="#t" class="pu" x="1440" y="727"/><use href="#t" class="pv" x="1440" y="890"/><use href="#t" class="pv" x="1440" y="927"/><use href="#t" class="ge" x="1515" y="964"/><use href="#t" class="or" x="1515" y="1001"/><use href="#t" class="ge" x="1515" y="1041"/><use href="#t" class="or" x="1515" y="1078"/><use href="#t" class="ge" x="1515" y="1118"/><use href="#t" class="or" x="1515" y="1155"/><use href="#t" class="ge" x="1515" y="1195"/><use href="#t" class="or" x="1515" y="1232"/><use href="#t" class="ge" x="1515" y="1246"/><use href="#t" class="or" x="1515" y="1283"/><use href="#t" class="ge" x="1440" y="1296"/>
<use href="#p" class="lp" x="17" y="37"/><use href="#p" class="lp" x="17" y="74"/><use href="#p" class="tn" x="269" y="130"/><use href="#p" class="ge" x="104" y="156"/><use href="#p" class="pu" x="121" y="162"/><use href="#p" class="pk" x="297" y="187"/><use href="#p" class="pu" x="297" y="290"/><use href="#p" class="dp" x="297" y="418"/><use href="#p" class="pk" x="457" y="187"/><use href="#p" class="pv" x="457" y="212"/><use href="#p" class="pk" x="457" y="238"/><use href="#p" class="pk" x="457" y="264"/><use href="#p" class="dp" x="568" y="315"/><use href="#p" class="dp" x="568" y="367"/><use href="#p" class="pk" x="799" y="315"/><use href="#p" class="pk" x="799" y="341"/><use href="#p" class="pk" x="799" y="367"/><use href="#p" class="pk" x="799" y="393"/><use href="#p" class="pk" x="527" y="419"/><use href="#p" class="pk" x="1113" y="161"/><use href="#p" class="pv" x="274" y="475"/><use href="#p" class="lp" x="91" y="521"/>
<use href="#p" class="pv" x="1442" y="37"/><use href="#p" class="dr" x="1492.400" y="99"/><use href="#p" class="pv" x="1578" y="105"/><use href="#p" class="tn" x="1805.500" y="105"/><use href="#p" class="dr" x="2088" y="99"/><use href="#p" class="pv" x="2174" y="105"/><use href="#p" class="tn" x="2402" y="105"/><use href="#p" class="pv" x="1489" y="147"/><use href="#p" class="pv" x="1517" y="184"/><use href="#p" class="pk" x="2040" y="305"/>
<use href="#p" class="dr" x="1566.900" y="246"/><use href="#p" class="pv" x="1652.500" y="252"/><use href="#p" class="tn" x="1880" y="252"/><use href="#p" class="dr" x="2162.500" y="246"/><use href="#p" class="pv" x="2248.500" y="252"/><use href="#p" class="tn" x="2476.500" y="252"/>
<use href="#p" class="dp" x="1764" y="381"/><use href="#p" class="pv" x="1780.600" y="387"/><use href="#p" class="dp" x="1751" y="418"/><use href="#p" class="pv" x="1767.600" y="424"/><use href="#p" class="dr" x="1700" y="455"/><use href="#p" class="ge" x="1721.700" y="481"/><use href="#p" class="ge" x="1840" y="481"/><use href="#p" class="pv" x="1856.400" y="487"/><use href="#p" class="pv" x="2077.700" y="487"/><use href="#p" class="pv" x="1840" y="518"/><use href="#p" class="pv" x="1840" y="544"/><use href="#p" class="n1" x="1713.700" y="576"/><use href="#p" class="pv" x="1785.700" y="576"/><use href="#p" class="n1" x="1987" y="576"/><use href="#p" class="pv" x="1585" y="612"/><use href="#p" class="dp" x="1755.800" y="613"/><use href="#p" class="pv" x="1819.800" y="619"/><use href="#p" class="pv" x="2309" y="618"/><use href="#p" class="dp" x="2481.700" y="612"/><use href="#p" class="pv" x="2546" y="618"/><use href="#p" class="pv" x="3021" y="618"/><use href="#p" class="pv" x="1937" y="672"/>
<use href="#p" class="dr" x="1669" y="732"/><use href="#p" class="og" x="1783" y="738"/><use href="#p" class="lp" x="1943" y="738"/><use href="#p" class="og" x="1943" y="765"/><use href="#p" class="lp" x="2040" y="770"/><use href="#p" class="lp" x="2246" y="770"/><use href="#p" class="og" x="1943" y="801"/><use href="#p" class="lp" x="2040" y="806"/><use href="#p" class="lp" x="2250" y="806"/><use href="#p" class="pk" x="1943" y="838"/><use href="#p" class="pk" x="2102.400" y="838"/><use href="#p" class="pv" x="2102.400" y="864"/><use href="#p" class="dr" x="1669" y="895"/><use href="#p" class="pv" x="1755.500" y="901"/><use href="#p" class="pk" x="1896.500" y="901"/>
<use href="#p" class="ge" x="1529" y="932"/><use href="#p" class="pv" x="1545.700" y="938"/><use href="#p" class="nb" x="1673.800" y="938"/><use href="#p" class="lp" x="1515.400" y="975"/>
<use href="#p" class="ge" x="1529" y="1009"/><use href="#p" class="pv" x="1545.700" y="1015"/><use href="#p" class="nb" x="1673.800" y="1015"/><use href="#p" class="lp" x="1515.400" y="1052"/>
<use href="#p" class="ge" x="1529" y="1086"/><use href="#p" class="pv" x="1545.700" y="1092"/><use href="#p" class="nb" x="1673.800" y="1092"/><use href="#p" class="lp" x="1515.400" y="1129"/>
<use href="#p" class="ge" x="1529" y="1163"/><use href="#p" class="pv" x="1545.700" y="1169"/><use href="#p" class="nb" x="1673.800" y="1169"/><use href="#p" class="lp" x="1515.400" y="1206"/>
<use href="#p" class="lp" x="1515.400" y="1257"/>
</g>
</svg>
